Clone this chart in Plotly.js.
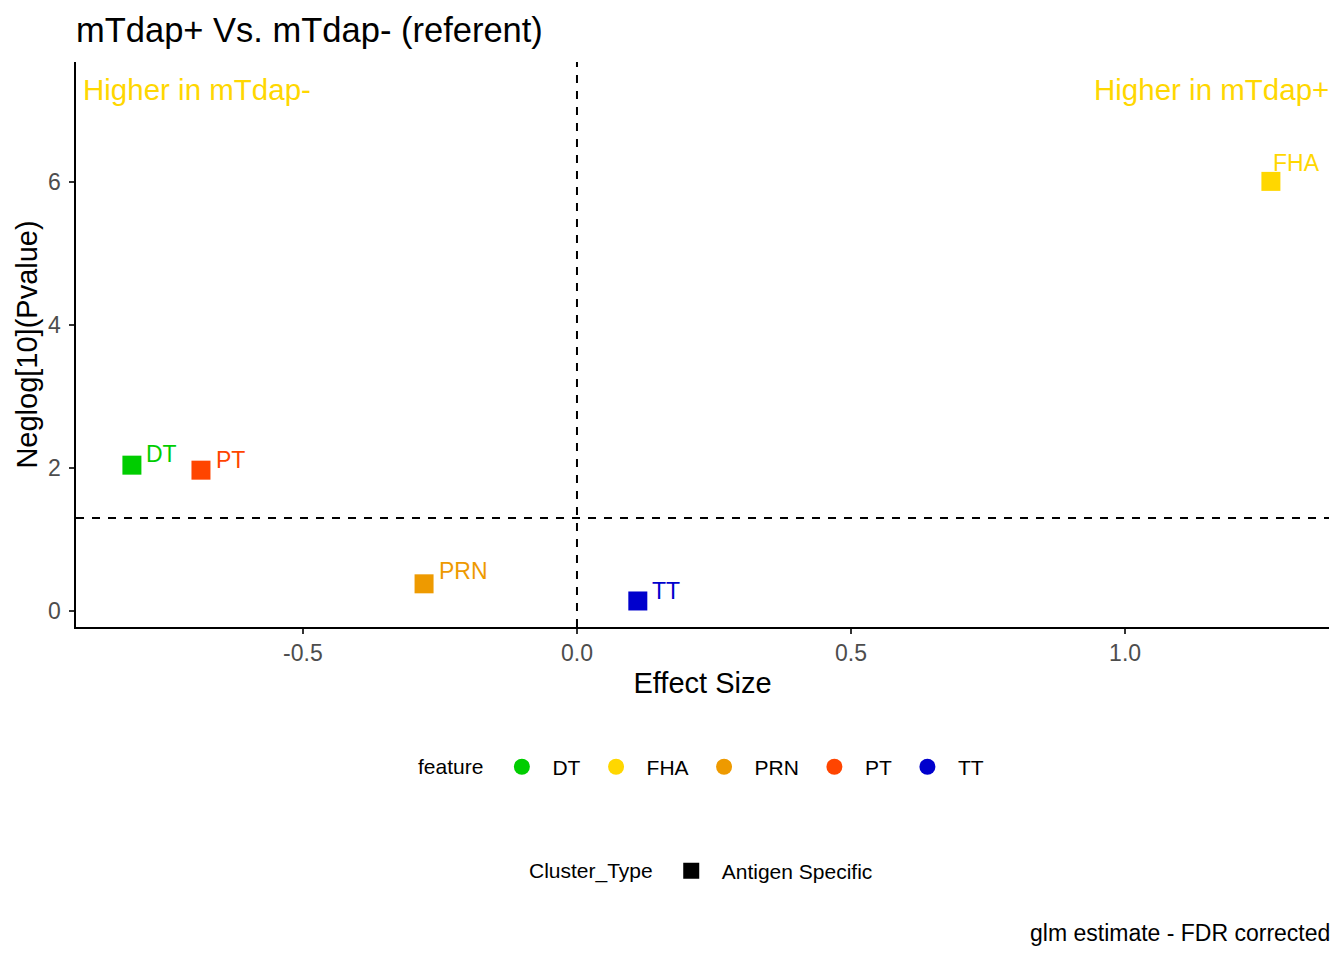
<!DOCTYPE html>
<html>
<head>
<meta charset="utf-8">
<script src="https://cdn.plot.ly/plotly-3.0.1.min.js"></script>
<style>html,body{margin:0;padding:0;background:#fff;}#chart{width:1344px;height:960px;}</style>
</head>
<body>
<div id="chart"></div>
<script>
// ---- data ----
const features = ["DT", "FHA", "PRN", "PT", "TT"];
const effectSize = [-0.812, 1.266, -0.279, -0.686, 0.111];
const neglogP = [2.04, 6.01, 0.38, 1.97, 0.14];
const featureColors = ["#00CD00", "#FFD700", "#EE9A00", "#FF4500", "#0000CD"];
const clusterTypes = ["Antigen Specific"];
const pThreshold = 0.05;
const effectThreshold = 0;
const xTicks = [-0.5, 0.0, 0.5, 1.0];
const yTicks = [0, 2, 4, 6];
// label pixel offsets (style, not data)
const labelShiftX = [12, 0, 13, 13, 12];
const labelShiftY = [11, 18, 13, 10, 10];

const FONT = "Liberation Sans, Arial, sans-serif";

const traces = [];
features.forEach((f, i) => {
  traces.push({
    type: "scatter", mode: "markers",
    x: [effectSize[i]], y: [neglogP[i]],
    marker: {symbol: "square", size: 19, color: featureColors[i]},
    showlegend: false, name: f
  });
});
features.forEach((f, i) => {
  traces.push({
    type: "scatter", mode: "markers",
    x: [null], y: [null],
    marker: {symbol: "circle", size: 16, color: featureColors[i]},
    name: f, legend: "legend", showlegend: true
  });
});
clusterTypes.forEach(c => {
  traces.push({
    type: "scatter", mode: "markers",
    x: [null], y: [null],
    marker: {symbol: "square", size: 16, color: "#000000"},
    name: c, legend: "legend2", showlegend: true
  });
});

const annotations = features.map((f, i) => ({
  x: effectSize[i], y: neglogP[i], xref: "x", yref: "y",
  text: f, showarrow: false, xanchor: "left", yanchor: "middle",
  xshift: labelShiftX[i], yshift: labelShiftY[i],
  font: {family: FONT, size: 23, color: featureColors[i]}
}));
annotations.push(
  {x: 0, y: 1, xref: "paper", yref: "paper", xanchor: "left", yanchor: "middle", yshift: -27, xshift: 5,
   text: "Higher in mTdap-", showarrow: false, font: {family: FONT, size: 29.5, color: "#FFD700"}},
  {x: 1, y: 1, xref: "paper", yref: "paper", xanchor: "right", yanchor: "middle", yshift: -27, xshift: 2,
   text: "Higher in mTdap+", showarrow: false, font: {family: FONT, size: 29.5, color: "#FFD700"}},
  {x: 1, y: -0.542, xref: "paper", yref: "paper", xanchor: "right", yanchor: "middle", xshift: 3,
   text: "glm estimate - FDR corrected", showarrow: false, font: {family: FONT, size: 23, color: "#000000"}}
);

const yThresh = -Math.log10(pThreshold);
const shapes = [
  {type: "line", xref: "x", yref: "paper", x0: effectThreshold, x1: effectThreshold, y0: 0, y1: 1,
   line: {color: "#000", width: 2, dash: "8px,8px"}},
  {type: "line", xref: "paper", yref: "y", x0: 0, x1: 1, y0: yThresh, y1: yThresh,
   line: {color: "#000", width: 2, dash: "8px,8px"}}
];

const legendBase = {
  orientation: "h", x: 0.5, xanchor: "center", yanchor: "middle", itemwidth: 51,
  font: {family: FONT, size: 21, color: "#000"}, itemclick: false, itemdoubleclick: false
};

const layout = {
  width: 1344, height: 960,
  paper_bgcolor: "#fff", plot_bgcolor: "#fff",
  margin: {l: 76, r: 15, t: 62, b: 333},
  font: {family: FONT, color: "#000"},
  title: {text: "mTdap+ Vs. mTdap- (referent)", x: 76/1344, xanchor: "left", xref: "container",
          y: 1 - 30/960, yanchor: "middle", yref: "container",
          font: {family: FONT, size: 34.5, color: "#000"}},
  xaxis: {range: [-0.914, 1.372], tickvals: xTicks, ticktext: xTicks.map(v => v.toFixed(1)),
          showgrid: false, zeroline: false, showline: true, linecolor: "#000", linewidth: 1.6,
          ticks: "outside", ticklen: 5, tickcolor: "#333", tickwidth: 1.4,
          tickfont: {family: FONT, size: 23, color: "#4D4D4D"},
          title: {text: "Effect Size", font: {family: FONT, size: 29, color: "#000"}, standoff: 7}},
  yaxis: {range: [-0.224, 7.68], tickvals: yTicks, ticktext: yTicks.map(String),
          showgrid: false, zeroline: false, showline: true, linecolor: "#000", linewidth: 1.6,
          ticks: "outside", ticklen: 5, tickcolor: "#333", tickwidth: 1.4, ticklabelstandoff: 4,
          tickfont: {family: FONT, size: 23, color: "#4D4D4D"},
          title: {text: "Neglog[10](Pvalue)", font: {family: FONT, size: 29, color: "#000"}, standoff: 2}},
  legend: Object.assign({}, legendBase, {y: -0.248,
           title: {text: "feature", side: "left", font: {family: FONT, size: 21, color: "#000"}}}),
  legend2: Object.assign({}, legendBase, {y: -0.432,
           title: {text: "Cluster_Type", side: "left", font: {family: FONT, size: 21, color: "#000"}}}),
  shapes: shapes,
  annotations: annotations,
  hovermode: "closest"
};

Plotly.newPlot("chart", traces, layout, {displayModeBar: false, staticPlot: true});
</script>
</body>
</html>
